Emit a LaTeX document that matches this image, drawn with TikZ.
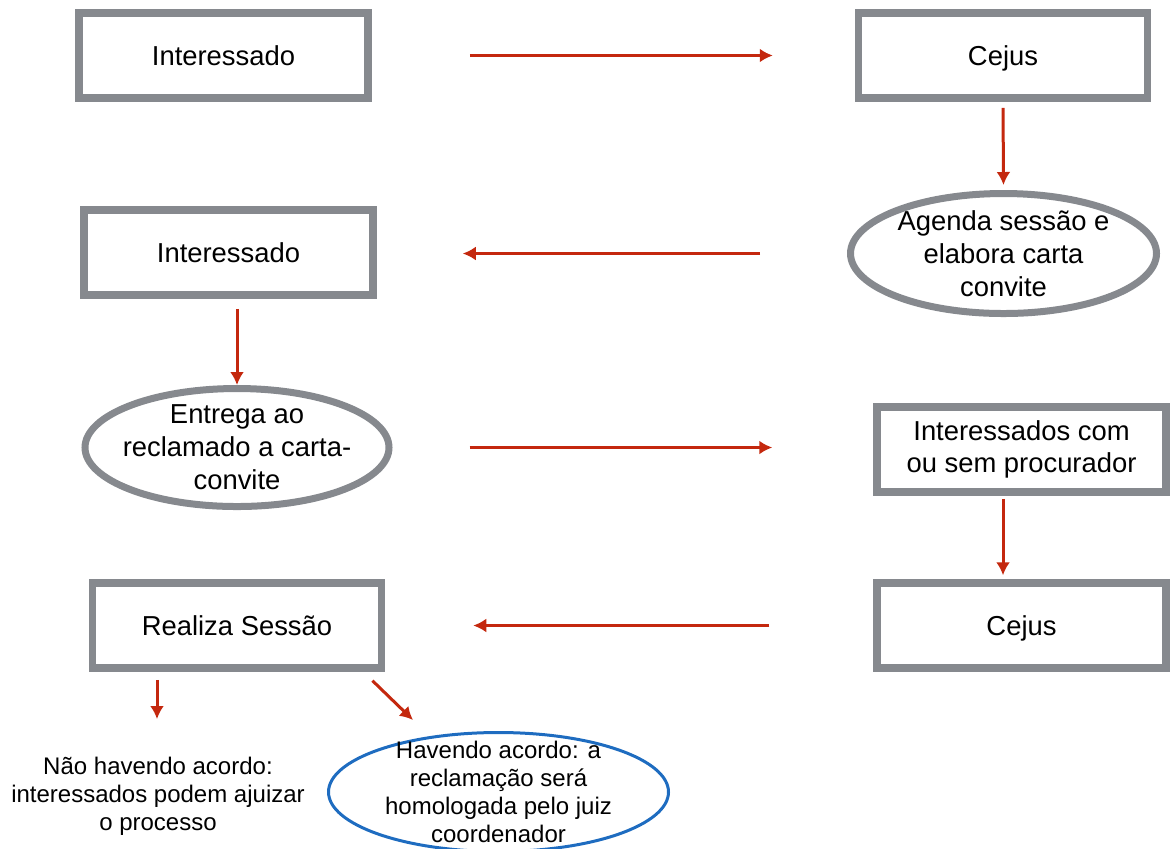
\documentclass[tikz,border=0pt]{standalone}
\usepackage{fontspec}
\setmainfont{Liberation Sans}
\usetikzlibrary{positioning, shapes.geometric, arrows.meta}
\definecolor{boxgray}{RGB}{134,137,142}
\definecolor{arrred}{RGB}{196,40,14}
\definecolor{ovalblue}{RGB}{30,108,192}

\begin{document}
\begin{tikzpicture}[x=0.5pt, y=-0.5pt,
	box/.style={draw=boxgray, line width=3.75pt, rectangle, inner sep=0pt,
		minimum width=144.5pt, minimum height=42.5pt, align=center,
		font=\fontsize{13.7}{16}\selectfont},
	oval/.style={draw=boxgray, line width=3.5pt, ellipse, inner xsep=-10pt, inner ysep=-6pt,
		align=center, font=\fontsize{13.7}{16.5}\selectfont},
	small/.style={align=center, inner sep=0pt, font=\fontsize{12}{14}\selectfont},
	arr/.style={arrred, line width=1.5pt, -{Latex[length=6.5pt,width=7pt]}}]
	
	% Frame of the page
	\path[use as bounding box] (0,0) rectangle (1170,848);
	
	% First row
	\node[box] (inter1) at (223.5,55.5) {Interessado};
	\node[box, text depth=0pt] (cejus1) at (1003,55.5) {Cejus};
	
	% Second row
	\node[box] (inter2) at (228.5,252.5) {Interessado};
	\node[oval, minimum width=153pt, minimum height=60pt] (agenda) at (1003.5,253.5)
		{Agenda sessão e\\elabora carta\\convite};
	
	% Third row
	\node[oval, minimum width=152pt, minimum height=59pt] (entrega) at (237,447.5)
		{Entrega ao\\reclamado a carta-\\convite};
	\node[box] (intcom) at (1021.5,449.5) {Interessados com\\ou sem procurador};
	
	% Fourth row
	\node[box] (realiza) at (237,625.5) {Realiza Sessão};
	\node[box, text depth=0pt] (cejus2) at (1021.5,625.5) {Cejus};
	
	% Outcomes
	\node[small] (semacordo) at (158,796)
		{Não havendo acordo:\\interessados podem ajuizar\\o processo};
	\node[small, draw=ovalblue, line width=1.5pt, ellipse, inner xsep=-10pt, inner ysep=-10pt,
		minimum width=170pt, minimum height=59.5pt] (comacordo) at (498.5,792)
		{Havendo acordo: a\\reclamação será\\homologada pelo juiz\\coordenador};
	\coordinate (semtip) at (157,719);
	\coordinate (comtip) at (413,720);
	
	% Arrows
	\draw[arr, shorten <=49pt, shorten >=41pt] (inter1.east) -- (cejus1.west);
	\draw[arr, shorten <=3pt, shorten >=2.5pt] (cejus1.south) -- (agenda.north);
	\draw[arr, shorten <=43.5pt, shorten >=43pt] (agenda.west) -- (agenda.west -| inter2.east);
	\draw[arr, shorten <=5pt] (inter2.south -| entrega.north) -- (entrega.north);
	\draw[arr, shorten <=38.5pt, shorten >=50.5pt] (entrega.east) -- (entrega.east -| intcom.west);
	\draw[arr, shorten <=1.5pt, shorten >=2pt] (intcom.south -| cejus1) -- (cejus2.north -| cejus1);
	\draw[arr, shorten <=52pt, shorten >=44pt] (cejus2.west) -- (realiza.east);
	\draw[arr, shorten <=4pt] (realiza.south -| semtip) -- (semtip);
	\draw[arr, shorten <=6.4pt] ([xshift=-11pt]realiza.south east) -- (comtip);
	
\end{tikzpicture}
\end{document}
